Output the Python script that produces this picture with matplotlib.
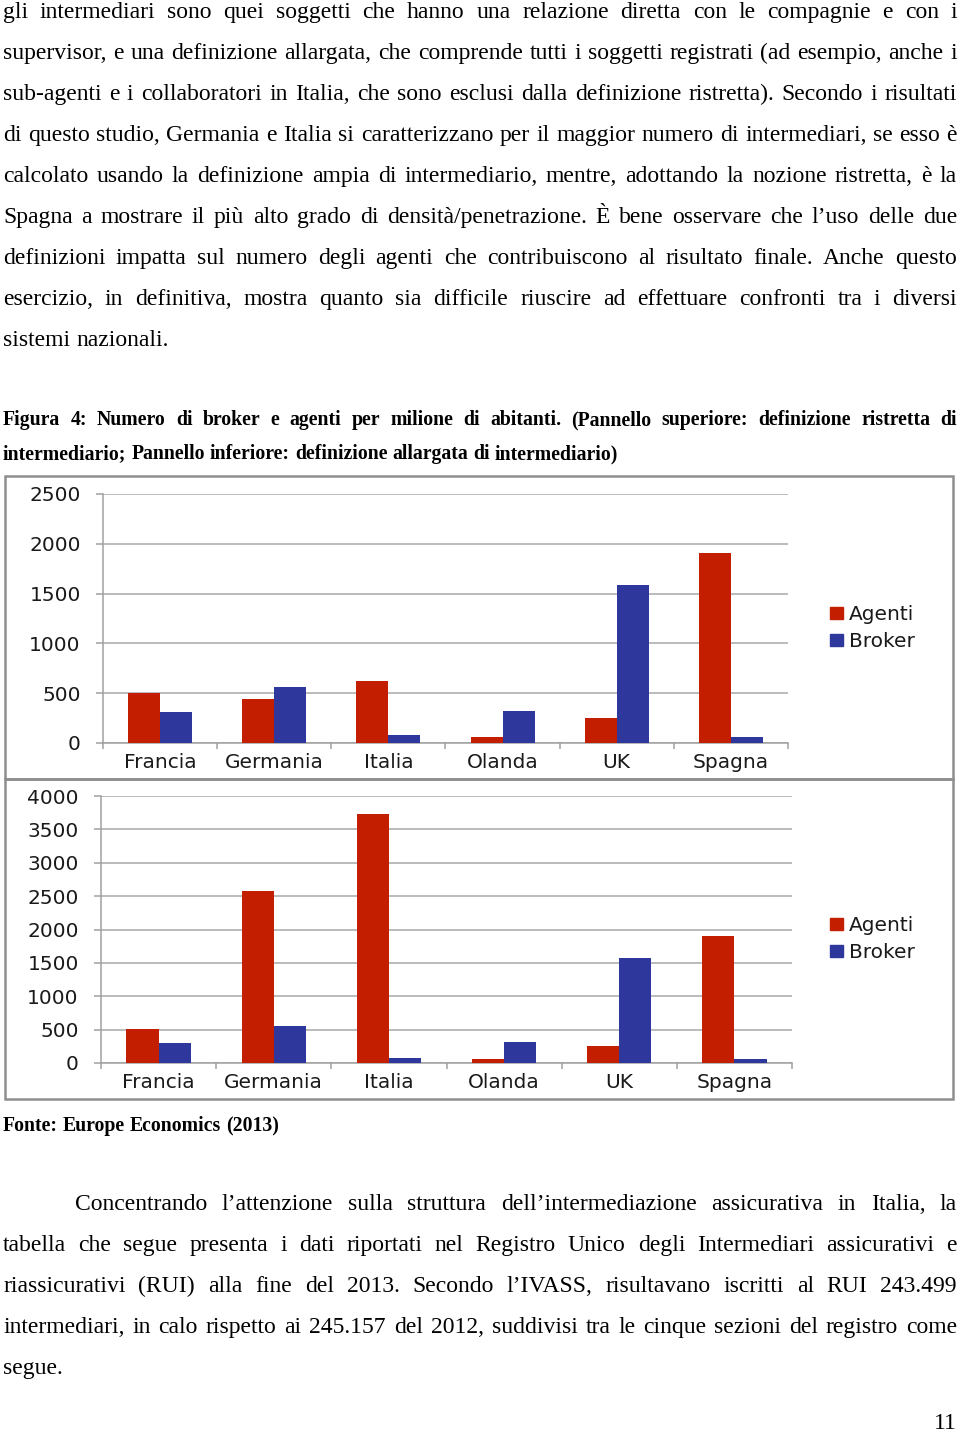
import numpy as np
import matplotlib

matplotlib.use("Agg")
import matplotlib.pyplot as plt
from matplotlib.patches import Rectangle, Patch

# ---- data (per milione di abitanti) ----
paesi = ["Francia", "Germania", "Italia", "Olanda", "UK", "Spagna"]
# pannello superiore: definizione ristretta
agenti_ristretta = [502, 446, 619, 60, 251, 1911]
broker_ristretta = [311, 562, 84, 321, 1583, 64]
# pannello inferiore: definizione allargata
agenti_allargata = [504, 2579, 3731, 60, 249, 1910]
broker_allargata = [304, 558, 75, 314, 1580, 60]
yticks_sup = [0, 500, 1000, 1500, 2000, 2500]
yticks_inf = [0, 500, 1000, 1500, 2000, 2500, 3000, 3500, 4000]

par1 = [
    "gli intermediari sono quei soggetti che hanno una relazione diretta con le compagnie e con i",
    "supervisor, e una definizione allargata, che comprende tutti i soggetti registrati (ad esempio, anche i",
    "sub-agenti e i collaboratori in Italia, che sono esclusi dalla definizione ristretta). Secondo i risultati",
    "di questo studio, Germania e Italia si caratterizzano per il maggior numero di intermediari, se esso è",
    "calcolato usando la definizione ampia di intermediario, mentre, adottando la nozione ristretta, è la",
    "Spagna a mostrare il più alto grado di densità/penetrazione. È bene osservare che l\u2019uso delle due",
    "definizioni impatta sul numero degli agenti che contribuiscono al risultato finale. Anche questo",
    "esercizio, in definitiva, mostra quanto sia difficile riuscire ad effettuare confronti tra i diversi",
    "sistemi nazionali.",
]
didascalia = [
    "Figura 4: Numero di broker e agenti per milione di abitanti. (Pannello superiore: definizione ristretta di",
    "intermediario; Pannello inferiore: definizione allargata di intermediario)",
]
fonte = "Fonte: Europe Economics (2013)"
par2 = [
    "Concentrando l\u2019attenzione sulla struttura dell\u2019intermediazione assicurativa in Italia, la",
    "tabella che segue presenta i dati riportati nel Registro Unico degli Intermediari assicurativi e",
    "riassicurativi (RUI) alla fine del 2013. Secondo l\u2019IVASS, risultavano iscritti al RUI 243.499",
    "intermediari, in calo rispetto ai 245.157 del 2012, suddivisi tra le cinque sezioni del registro come",
    "segue.",
]

ROSSO = "#C41E00"
BLU = "#2E379B"
W, H = 960, 1432

fig = plt.figure(figsize=(W / 100, H / 100), dpi=100)
page = fig.add_axes([0, 0, 1, 1])
page.set_xlim(0, W)
page.set_ylim(H, 0)
page.axis("off")
renderer = fig.canvas.get_renderer()

SERIF = "Liberation Serif"


def put_line(text, x0, x1, y, justify=True, **kw):
    """Draw one line of text, spreading words so it fills x0..x1."""
    words = text.split()
    arts = [page.text(0, y, w, va="baseline", ha="left", **kw) for w in words]
    widths = [a.get_window_extent(renderer).width for a in arts]
    if justify and len(words) > 1:
        gap = (x1 - x0 - sum(widths)) / (len(words) - 1)
    else:
        sp = page.text(0, y, "a a", **kw)
        sa = page.text(0, y, "aa", **kw)
        gap = sp.get_window_extent(renderer).width - sa.get_window_extent(renderer).width
        sp.remove()
        sa.remove()
    x = x0
    for a, w in zip(arts, widths):
        a.set_x(x)
        x += w + gap


body = dict(family=SERIF, fontsize=17, color="black")
for i, line in enumerate(par1):
    put_line(line, 3, 957, 18 + 41 * i, justify=i < len(par1) - 1, **body)

cap = dict(family=SERIF, fontsize=14.2, weight="bold", color="black")
put_line(didascalia[0], 3, 957, 425, justify=True, **cap)
put_line(didascalia[1], 3, 957, 459, justify=False, **cap)
put_line(fonte, 3, 957, 1131, justify=False, **cap)

for i, line in enumerate(par2):
    x0 = 75 if i == 0 else 3
    put_line(line, x0, 957, 1210 + 41 * i, justify=i < len(par2) - 1, **body)

page.text(957, 1429, "11", ha="right", va="baseline", **body)

# chart frames
for (y0, y1) in [(476, 779), (779, 1099)]:
    page.add_patch(Rectangle((5, y0), 948, y1 - y0, fill=False,
                             edgecolor="#8E8E8E", lw=1.8))


def pannello(rect, agenti, broker, yticks):
    l, t, r, b = rect
    ax = fig.add_axes([l / W, 1 - b / H, (r - l) / W, (b - t) / H])
    x = np.arange(len(paesi))
    bw = 0.28
    ax.bar(x - bw / 2, agenti, bw, color=ROSSO, label="Agenti", zorder=3)
    ax.bar(x + bw / 2, broker, bw, color=BLU, label="Broker", zorder=3)
    ax.set_xlim(-0.5, len(paesi) - 0.5)
    ax.set_ylim(yticks[0], yticks[-1])
    ax.set_yticks(yticks)
    ax.set_yticklabels([str(v) for v in yticks])
    ax.set_xticks(x)
    ax.set_xticklabels(paesi)
    ax.set_xticks(np.arange(len(paesi) + 1) - 0.5, minor=True)
    ax.yaxis.grid(True, color="#A8A8A8", lw=1.1, zorder=0)
    for s in ["top", "right"]:
        ax.spines[s].set_visible(False)
    for s in ["left", "bottom"]:
        ax.spines[s].set_color("#A0A0A0")
        ax.spines[s].set_linewidth(1.1)
    ax.tick_params(axis="y", length=5, color="#A0A0A0", width=1.1, pad=11,
                   labelsize=14.5, labelcolor="#1A1A1A")
    ax.tick_params(axis="x", which="major", length=0, pad=7,
                   labelsize=14.5, labelcolor="#1A1A1A")
    ax.tick_params(axis="x", which="minor", length=4, color="#A0A0A0", width=1.1)
    for lab in ax.get_xticklabels() + ax.get_yticklabels():
        lab.set_family("DejaVu Sans")
    return ax


pannello((103, 494, 788, 743), agenti_ristretta, broker_ristretta, yticks_sup)
pannello((101, 796, 792, 1063), agenti_allargata, broker_allargata, yticks_inf)

handles = [Patch(color=ROSSO, label="Agenti"), Patch(color=BLU, label="Broker")]
for yc in (628, 939):
    fig.legend(handles=handles, loc="center left",
               bbox_to_anchor=(830 / W, 1 - yc / H), bbox_transform=fig.transFigure,
               frameon=False, fontsize=14.5, handlelength=0.65, handleheight=0.5,
               handletextpad=0.3, labelspacing=0.4, borderaxespad=0,
               borderpad=0, labelcolor="#1A1A1A")

fig.savefig("out.png", dpi=100)
